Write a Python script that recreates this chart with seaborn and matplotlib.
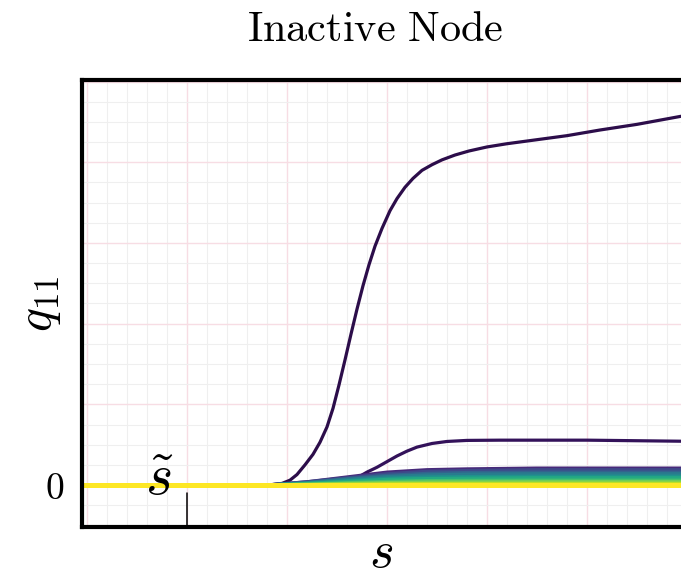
import numpy as np
import pandas as pd
import matplotlib.pyplot as plt
import seaborn as sns
from matplotlib.ticker import FixedLocator, MultipleLocator

sns.set_style('white')
plt.rcParams['mathtext.fontset'] = 'cm'
plt.rcParams['font.family'] = ['DejaVu Serif']
plt.rcParams['text.color'] = 'black'
plt.rcParams['axes.labelcolor'] = 'black'
plt.rcParams['xtick.color'] = 'black'
plt.rcParams['ytick.color'] = 'black'

# Curves: s along x, q11 along y
main_s = [-0.05, 1.63, 1.85, 1.95, 2.03, 2.10, 2.18, 2.26, 2.33, 2.40, 2.46, 2.52, 2.58,
          2.64, 2.70, 2.76, 2.82, 2.88, 2.95, 3.03, 3.10, 3.18, 3.26, 3.35, 3.45, 3.55,
          3.68, 3.82, 4.00, 4.20, 4.50, 4.80, 5.13, 5.50, 5.94]
main_q = [0.0, 0.0, 0.005, 0.02, 0.06, 0.13, 0.25, 0.38, 0.53, 0.72, 0.95, 1.24, 1.55,
          1.87, 2.18, 2.47, 2.73, 2.96, 3.18, 3.40, 3.55, 3.69, 3.80, 3.90, 3.97, 4.03,
          4.09, 4.14, 4.19, 4.23, 4.28, 4.33, 4.40, 4.47, 4.57]

second_s = [-0.05, 1.9, 2.3, 2.6, 2.73, 2.80, 2.90, 3.0, 3.1, 3.2, 3.3, 3.45, 3.6, 3.8,
            4.13, 5.0, 5.94]
second_q = [0.0, 0.0, 0.03, 0.07, 0.11, 0.16, 0.22, 0.29, 0.36, 0.42, 0.47, 0.515, 0.54,
            0.553, 0.556, 0.556, 0.543]

# The low bundle of curves shares one s grid
bundle_s = [-0.05, 1.8, 2.2, 2.6, 3.0, 3.4, 3.8, 4.5, 5.94]
bundle_q = [
    [0, 0, 0.04, 0.10, 0.16, 0.19, 0.20, 0.21, 0.21],
    [0, 0, 0.04, 0.09, 0.14, 0.17, 0.18, 0.19, 0.19],
    [0, 0, 0.03, 0.08, 0.12, 0.145, 0.155, 0.16, 0.16],
    [0, 0, 0.03, 0.07, 0.105, 0.125, 0.135, 0.14, 0.14],
    [0, 0, 0.02, 0.055, 0.085, 0.10, 0.105, 0.11, 0.11],
    [0, 0, 0.02, 0.045, 0.07, 0.08, 0.085, 0.09, 0.09],
    [0, 0, 0.01, 0.03, 0.045, 0.055, 0.058, 0.06, 0.06],
    [0, 0, 0.01, 0.02, 0.03, 0.036, 0.038, 0.04, 0.04],
    [0, 0, 0.005, 0.01, 0.015, 0.018, 0.019, 0.02, 0.02],
    [0, 0, 0, 0, 0, 0, 0, 0, 0],
]

s_tilde = 1.0

# Build a long table for seaborn
rows = []
for s, q in zip(main_s, main_q):
    rows.append((s, q, 0))
for s, q in zip(second_s, second_q):
    rows.append((s, q, 1))
for k, qs in enumerate(bundle_q):
    for s, q in zip(bundle_s, qs):
        rows.append((s, q, k + 2))
df = pd.DataFrame(rows, columns=['s', 'q', 'curve'])
n_curves = df['curve'].nunique()

palette = ['#2c0d4a', '#33125a'] + [tuple(c) for c in plt.cm.viridis(np.linspace(0.12, 1.0, n_curves - 2))]
sizes = {c: 2.3 for c in range(n_curves)}
sizes[n_curves - 1] = 3.6

fig = plt.figure(figsize=(6.81, 5.80), dpi=100)
ax = fig.add_axes([0.1204, 0.0914, 0.8796, 0.7707])

sns.lineplot(data=df, x='s', y='q', hue='curve', palette=palette, size='curve', sizes=sizes,
             sort=False, legend=False, estimator=None, ax=ax)

ax.set_xlim(-0.05, 5.94)
ax.set_ylim(-0.52, 5.02)

# Faint grid: pink major lines, grey minor lines between them
minor_x = [i / 5 for i in range(0, 31) if i % 5 != 0]
minor_y = [i / 4 for i in range(-2, 21) if i % 4 != 0]
ax.xaxis.set_major_locator(MultipleLocator(1.0))
ax.xaxis.set_minor_locator(FixedLocator(minor_x))
ax.yaxis.set_major_locator(MultipleLocator(1.0))
ax.yaxis.set_minor_locator(FixedLocator(minor_y))
ax.grid(which='major', color='#f7dde4', linewidth=1.0)
ax.grid(which='minor', color='#efefef', linewidth=0.8)
ax.set_axisbelow(True)
ax.tick_params(which='both', length=0, labelbottom=False, labelleft=False)

# The 0 label on y
ax2 = ax.secondary_yaxis('left')
ax2.set_yticks([0])
ax2.set_yticklabels([r'$0$'], fontsize=27)
ax2.tick_params(length=0, pad=13)
ax2.spines['left'].set_visible(False)

# s-tilde marker on x
ax.axvline(s_tilde, ymin=0, ymax=0.076, color='black', linewidth=1.1)
ax.text(s_tilde - 0.27, 0.08, r'$\tilde{s}$', fontsize=42, ha='center', va='center')

for side in ['left', 'top', 'bottom']:
    ax.spines[side].set_linewidth(3)
    ax.spines[side].set_color('black')
ax.spines['right'].set_visible(False)

ax.set_xlabel(r'$s$', fontsize=38, labelpad=0)
ax.set_ylabel(r'$q_{11}$', fontsize=36, labelpad=14)
ax.set_title(r'$\mathrm{Inactive\ Node}$', fontsize=30.5, pad=28, x=0.49)

plt.savefig('out.png', dpi=100)
